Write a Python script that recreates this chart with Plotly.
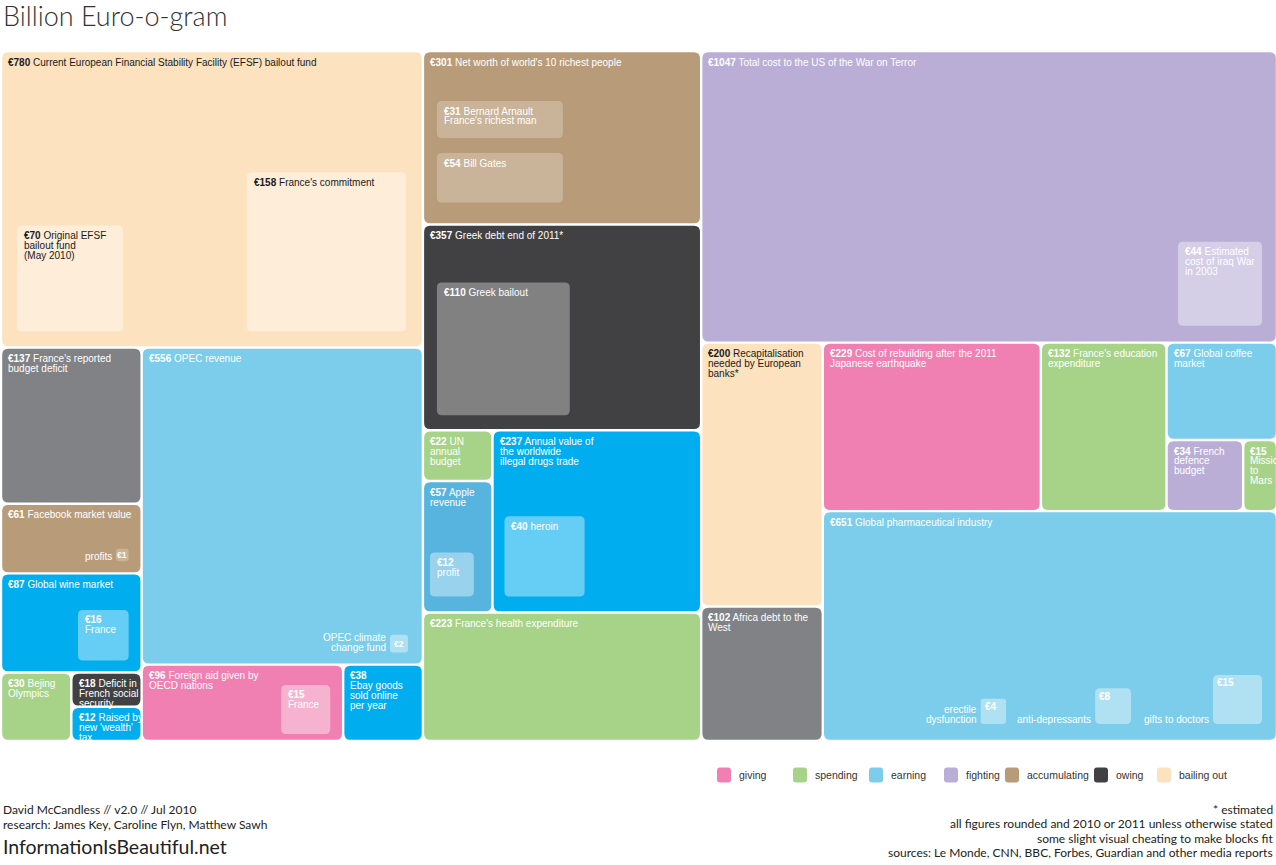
import math
import plotly.graph_objects as go

# ---------------- data ----------------
ids = ["efsf", "fr_deficit", "facebook", "wine", "beijing", "social", "wealth",
       "opec", "aid", "ebay",
       "richest", "greek", "un", "apple", "drugs", "health",
       "terror", "recap", "africa", "japan", "education", "coffee", "defence",
       "mars", "pharma"]
values = [780, 137, 61, 87, 30, 18, 12,
          556, 96, 38,
          301, 357, 22, 57, 237, 223,
          1047, 200, 102, 229, 132, 67, 34,
          15, 651]
labels = ["Current European Financial Stability Facility (EFSF) bailout fund",
          "France's reported<br>budget deficit",
          "Facebook market value",
          "Global wine market",
          "Bejing<br>Olympics",
          "Deficit in<br>French social<br>security",
          "Raised by<br>new 'wealth'<br>tax",
          "OPEC revenue",
          "Foreign aid given by<br>OECD nations",
          "<br>Ebay goods<br>sold online<br>per year",
          "Net worth of world's 10 richest people",
          "Greek debt end of 2011*",
          "UN<br>annual<br>budget",
          "Apple<br>revenue",
          "Annual value of<br>the worldwide<br>illegal drugs trade",
          "France's health expenditure",
          "Total cost to the US of the War on Terror",
          "Recapitalisation<br>needed by European<br>banks*",
          "Africa debt to the<br>West",
          "Cost of rebuilding after the 2011<br>Japanese earthquake",
          "France's education<br>expenditure",
          "Global coffee<br>market",
          "French<br>defence<br>budget",
          "<br>Mission<br>to<br>Mars",
          "Global pharmaceutical industry"]
categories = ["bailing out", "owing", "accumulating", "earning", "spending", "owing", "earning",
              "earning", "giving", "earning",
              "accumulating", "owing", "spending", "earning", "earning", "spending",
              "fighting", "bailing out", "owing", "giving", "spending", "earning", "fighting",
              "spending", "earning"]

# nested blocks (inside a parent block)
sub_parents = ["efsf", "efsf", "richest", "richest", "greek", "terror", "drugs", "apple",
               "wine", "aid", "opec", "facebook", "pharma", "pharma", "pharma"]
sub_values = [70, 158, 31, 54, 110, 44, 40, 12, 16, 15, 2, 1, 4, 8, 15]
sub_labels = ["Original EFSF<br>bailout fund<br>(May 2010)", "France's commitment",
              "Bernard Arnault<br>France's richest man", "Bill Gates", "Greek bailout",
              "Estimated<br>cost of iraq War<br>in 2003", "heroin", "<br>profit", "<br>France",
              "<br>France", "", "", "", "", ""]
sub_side_labels = ["", "", "", "", "", "", "", "", "", "",
                   "OPEC climate<br>change fund", "profits", "erectile<br>dysfunction",
                   "anti-depressants", "gifts to doctors"]

legend_order = ["giving", "spending", "earning", "fighting", "accumulating", "owing", "bailing out"]

title = "Billion Euro-o-gram"
footer_left = ["David McCandless // v2.0 // Jul 2010",
               "research: James Key, Caroline Flyn, Matthew Sawh"]
footer_site = "InformationIsBeautiful.net"
footer_right = ["* estimated",
                "all figures rounded and 2010 or 2011 unless otherwise stated",
                "some slight visual cheating to make blocks fit",
                "sources: Le Monde, CNN, BBC, Forbes, Guardian and other media reports"]

# ---------------- styles / layout structure ----------------
cat_colors = {
    "giving": "#F080B1",
    "spending": "#A7D388",
    "earning": "#7BCDEB",
    "fighting": "#BAAED7",
    "accumulating": "#B89C7A",
    "owing": "#414042",
    "bailing out": "#FDE2BF",
}
shade_colors = {"bright": "#00AEEF", "mid": "#56B4DF", "grey": "#808285"}
shades = ["", "grey", "", "bright", "", "", "bright",
          "", "", "bright",
          "", "", "", "mid", "bright", "",
          "", "", "grey", "", "", "", "",
          "", ""]
tint_alpha = {"accumulating": 0.24, "owing": 0.34}

# slice / dice arrangement ("H" = side by side, "V" = stacked, optional "equal" split
# = the original's "slight visual cheating to make blocks fit")
tree = ("H", [
    ("V", ["efsf", ("H", [("V", ["fr_deficit", "facebook", "wine",
                                   ("H", ["beijing", ("V", ["social", "wealth"], "equal")])]),
                           ("V", ["opec", ("H", ["aid", "ebay"])])])]),
    ("V", ["richest", "greek", ("H", [("V", ["un", "apple"]), "drugs"]), "health"]),
    ("V", ["terror", ("H", [("V", ["recap", "africa"]),
                            ("V", [("H", ["japan", "education",
                                          ("V", ["coffee", ("H", ["defence", "mars"])])]),
                                   "pharma"])])]),
])

# placement of nested blocks: anchor, offset-x, offset-y (px), fixed width, area factor
sub_place = [("bl", 16, 16), ("br", 17, 16), ("tl", 14, 50), ("tl", 14, 102), ("bl", 14, 15),
             ("br", 15, 17), ("bl", 12, 16), ("bl", 7, 16), ("bl", 77, 12), ("br", 13, 7),
             ("br", 15, 12), ("br", 13, 12), ("br", 271, 17), ("br", 146, 17), ("br", 15, 17)]
sub_fixed_w = [None, None, 126, 126, None, None, None, None, None, None, None, None, None, None, None]
sub_area_k = [1, 1, 0.94, 0.72, 1, 1, 1, 1, 1, 1, 1, 1, 1, 1, 1]

W, H = 1276, 865
X0, Y0, X1, Y1 = 1, 51, 1277, 741
GAP = 1.2
LABEL_FONT = "Liberation Sans Narrow, Arial Narrow, Liberation Sans, Arial, sans-serif"
ROUND_FONT = "Lato, Inter, Noto Sans, sans-serif"
LABEL_SIZE = 10
LINE = 9.8

val = dict(zip(ids, values))


def total(node):
    if isinstance(node, str):
        return val[node]
    return sum(total(k) for k in node[1])


def place(node, x0, y0, x1, y1, out):
    if isinstance(node, str):
        out[node] = (x0, y0, x1, y1)
        return
    d, kids = node[0], node[1]
    equal = len(node) > 2 and node[2] == "equal"
    T = total(node)
    pos = x0 if d == "H" else y0
    for k in kids:
        f = 1 / len(kids) if equal else total(k) / T
        if d == "H":
            w = (x1 - x0) * f
            place(k, pos, y0, pos + w, y1, out)
            pos += w
        else:
            h = (y1 - y0) * f
            place(k, x0, pos, x1, pos + h, out)
            pos += h


cells = {}
place(tree, X0, Y0, X1, Y1, cells)
scale = (X1 - X0) * (Y1 - Y0) / total(tree)


def rrect(x0, y0, x1, y1, r):
    r = min(r, (x1 - x0) / 2, (y1 - y0) / 2)
    return (f"M{x0 + r},{y0} L{x1 - r},{y0} Q{x1},{y0} {x1},{y0 + r} "
            f"L{x1},{y1 - r} Q{x1},{y1} {x1 - r},{y1} L{x0 + r},{y1} "
            f"Q{x0},{y1} {x0},{y1 - r} L{x0},{y0 + r} Q{x0},{y0} {x0 + r},{y0} Z")


shapes = []
annotations = []


def add_text(x, y, text, color, size=LABEL_SIZE, xanchor="left", family=LABEL_FONT, weight=None):
    f = dict(family=family, size=size, color=color)
    if weight:
        f["weight"] = weight
    annotations.append(dict(x=x, y=y, xref="x", yref="y", text=text, showarrow=False,
                            xanchor=xanchor, yanchor="middle", align=xanchor,
                            font=f, borderpad=0))


def add_block_label(x0, y0, value, label, color, pad_x=5, pad_y=10):
    lines = label.split("<br>")
    for i, ln in enumerate(lines):
        t = ln if i else (f"<b>€{value}</b> " + ln if ln else f"<b>€{value}</b>")
        add_text(x0 + pad_x, y0 + pad_y + i * LINE, t, color)


hx, hy, htxt = [], [], []
for i, k in enumerate(ids):
    x0, y0, x1, y1 = cells[k]
    x0, y0, x1, y1 = x0 + GAP, y0 + GAP, x1 - GAP, y1 - GAP
    col = shade_colors[shades[i]] if shades[i] else cat_colors[categories[i]]
    shapes.append(dict(type="path", path=rrect(x0, y0, x1, y1, 6), xref="x", yref="y",
                       fillcolor=col, line=dict(width=0), layer="below"))
    tc = "#1a1a1a" if categories[i] == "bailing out" else "#ffffff"
    add_block_label(x0, y0, values[i], labels[i], tc)
    hx.append((x0 + x1) / 2)
    hy.append((y0 + y1) / 2)
    htxt.append(f"€{values[i]}bn {labels[i].replace('<br>', ' ').strip()} ({categories[i]})")

for j, p in enumerate(sub_parents):
    px0, py0, px1, py1 = cells[p]
    area = sub_values[j] * scale * sub_area_k[j]
    if sub_fixed_w[j]:
        w = sub_fixed_w[j]
        h = area / w
    else:
        w = h = math.sqrt(area)
    anc, dx, dy = sub_place[j]
    if anc == "bl":
        x0, y1 = px0 + dx, py1 - dy
        x1, y0 = x0 + w, y1 - h
    elif anc == "br":
        x1, y1 = px1 - dx, py1 - dy
        x0, y0 = x1 - w, y1 - h
    else:
        x0, y0 = px0 + dx, py0 + dy
        x1, y1 = x0 + w, y0 + h
    pi = ids.index(p)
    alpha = tint_alpha.get(categories[pi], 0.40)
    shapes.append(dict(type="path", path=rrect(x0, y0, x1, y1, 5 if w > 30 else 3),
                       xref="x", yref="y", fillcolor=f"rgba(255,255,255,{alpha})",
                       line=dict(width=0), layer="below"))
    tc = "#1a1a1a" if categories[pi] == "bailing out" else "#ffffff"
    if w < 22:
        add_text((x0 + x1) / 2, (y0 + y1) / 2, f"<b>€{sub_values[j]}</b>", tc, size=8.5,
                 xanchor="center")
    elif sub_labels[j]:
        add_block_label(x0, y0, sub_values[j], sub_labels[j], tc, pad_x=6, pad_y=10)
    else:
        add_block_label(x0, y0, sub_values[j], "", tc, pad_x=3, pad_y=8)
    if sub_side_labels[j]:
        lines = sub_side_labels[j].split("<br>")
        for n, ln in enumerate(reversed(lines)):
            add_text(x0 - 3, y1 - 5 - n * LINE, ln, tc, xanchor="right")
    hx.append((x0 + x1) / 2)
    hy.append((y0 + y1) / 2)
    htxt.append(f"€{sub_values[j]}bn {sub_labels[j].replace('<br>', ' ').strip()}"
                f"{sub_side_labels[j].replace('<br>', ' ')}")

# legend
legend_x = [717, 793, 869, 944, 1005, 1094, 1157]
for c, lx in zip(legend_order, legend_x):
    shapes.append(dict(type="path", path=rrect(lx, 767.5, lx + 14, 782.5, 3), xref="x", yref="y",
                       fillcolor=cat_colors[c], line=dict(width=0)))
    add_text(lx + 21, 775, c, "#333333", size=10.5,
             family="Liberation Sans, Arial, sans-serif")

# title and footers
add_text(2, 15, title, "#333333", size=27, family=ROUND_FONT, weight=300)
for n, t in enumerate(footer_left):
    add_text(2, 809 + n * 15.5, t, "#222222", size=12, family=ROUND_FONT)
add_text(2, 846, footer_site, "#222222", size=19.5, family=ROUND_FONT)
for n, t in enumerate(footer_right):
    add_text(1274, 809 + n * 14.5, t, "#222222", size=12, family=ROUND_FONT, xanchor="right")

fig = go.Figure()
fig.add_trace(go.Scatter(x=hx, y=hy, mode="markers", marker=dict(size=20, opacity=0),
                         hovertext=htxt, hoverinfo="text", showlegend=False))
fig.update_layout(
    width=W, height=H, margin=dict(l=0, r=0, t=0, b=0),
    paper_bgcolor="white", plot_bgcolor="white",
    xaxis=dict(range=[0, W], visible=False, fixedrange=True),
    yaxis=dict(range=[H, 0], visible=False, fixedrange=True),
    shapes=shapes, annotations=annotations, showlegend=False,
)
fig.write_html("out.html")
